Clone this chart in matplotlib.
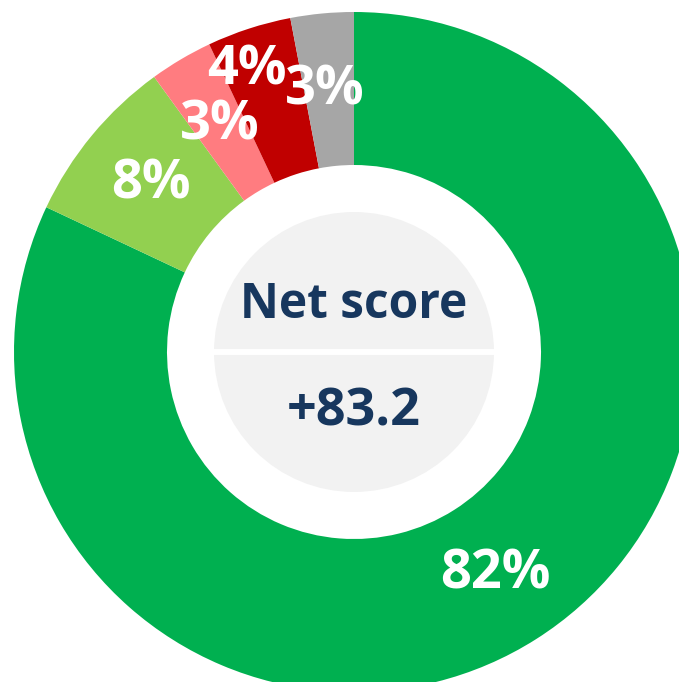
import numpy as np
import matplotlib.pyplot as plt
import matplotlib.patches as patches

# --- data ---
categories = ['Very satisfied', 'Satisfied', 'Neutral', 'Dissatisfied', 'No answer']
shares = [82, 8, 3, 4, 3]
colors = ['#00B050', '#92D050', '#FF7C80', '#C00000', '#A6A6A6']
net_score_title = 'Net score'
net_score_value = '+83.2'

# label nudges (radius as share of outer radius, angle shift in degrees)
label_radius = [0.775, 0.775, 0.775, 0.887, 0.775]
label_shift = [0, 0, 0, 2.8, 1.0]

plt.rcParams['font.family'] = ['Open Sans', 'DejaVu Sans']

fig = plt.figure(figsize=(6.79, 6.82), dpi=100)
ax = fig.add_axes([0, 0, 1, 1])
ax.axis('off')

# centre of the ring at (354, 352) px, outer radius 340 px -> crop like the original
px = 340.0
ring_width = (340 - 187) / 340
wedges, _ = ax.pie(shares, colors=colors, startangle=90, counterclock=False,
                   radius=1.0, wedgeprops=dict(width=ring_width, linewidth=0))
ax.set_xlim(-354 / px, (679 - 354) / px)
ax.set_ylim((352 - 682) / px, 352 / px)
ax.set_aspect('auto')

for w, v, r, d in zip(wedges, shares, label_radius, label_shift):
    ang = np.deg2rad((w.theta1 + w.theta2) / 2 + d)
    ax.text(r * np.cos(ang), r * np.sin(ang), f'{v}%', color='white',
            fontsize=39, fontweight='bold', ha='center', va='center')

# centre badge
inner = 140 / 340
ax.add_patch(patches.Circle((0, 0), inner, facecolor='#F2F2F2', edgecolor='none', zorder=3))
ax.plot([-inner, inner], [0, 0], color='white', linewidth=4.3, solid_capstyle='butt', zorder=4)

navy = '#17375E'
ax.text(0, 0.1, net_score_title, color=navy, fontsize=34.5, fontweight='bold',
        ha='center', va='baseline', zorder=5)
ax.text(0, -0.215, net_score_value, color=navy, fontsize=37.5, fontweight='bold',
        ha='center', va='baseline', zorder=5)

fig.savefig('out.png', dpi=100)
